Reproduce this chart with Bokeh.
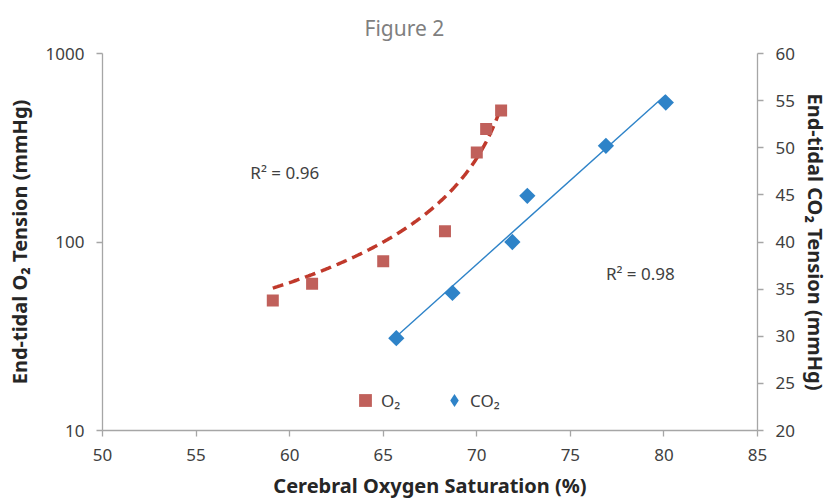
import numpy as np
from bokeh.plotting import figure
from bokeh.models import (Range1d, LinearAxis, LinearScale, FixedTicker, Legend, LegendItem, Label,
                          ColumnDataSource, CDSView, IndexFilter)
from bokeh.embed import file_html
from bokeh.resources import INLINE

# ---- data ----
sat_o2 = [59.1, 61.2, 65.0, 68.3, 70.0, 70.5, 71.3]
et_o2 = [49, 60, 79, 114, 298, 398, 499]
sat_co2 = [65.7, 68.7, 71.9, 72.7, 76.9, 80.1]
et_co2 = [29.8, 34.6, 40.0, 44.9, 50.2, 54.8]

x_ticks = [50, 55, 60, 65, 70, 75, 80, 85]
y_left_ticks = [10, 100, 1000]
y_left_labels = ["10", "100", "1000"]
y_right_ticks = [20, 25, 30, 35, 40, 45, 50, 55, 60]

title_text = "Figure 2"
r2_o2 = "R² = 0.96"
r2_co2 = "R² = 0.98"

FONT = "Noto Sans"
AX = "#a6a6a6"
TXT = "#404040"
RED_M = "#c0605b"
RED_L = "#c0392b"
BLUE = "#2e83c8"

p = figure(frame_width=655, frame_height=377, output_backend="svg", toolbar_location=None,
           x_range=Range1d(50, 85), y_range=Range1d(10, 1000), y_axis_type="log",
           min_border_left=102, min_border_right=66, min_border_top=53, min_border_bottom=67)
p.extra_y_ranges = {"co2": Range1d(20, 60)}
p.extra_y_scales = {"co2": LinearScale()}
p.outline_line_color = None
p.xgrid.visible = False
p.ygrid.visible = False
p.background_fill_color = "white"
p.border_fill_color = "white"

# title
p.title.text = title_text
p.title.text_font = FONT
p.title.text_font_size = "21px"
p.title.text_font_style = "normal"
p.title.text_color = "#7f7f7f"
p.title.align = "left"
p.title.offset = 262
p.title.standoff = 23

def style_axis(ax):
    ax.axis_line_color = AX
    ax.axis_line_width = 1.3
    ax.major_tick_line_color = AX
    ax.major_tick_line_width = 1.3
    ax.major_tick_out = 6
    ax.major_tick_in = 0
    ax.minor_tick_line_color = None
    ax.major_label_text_font = FONT
    ax.major_label_text_font_size = "17px"
    ax.major_label_text_color = TXT
    ax.major_label_standoff = 12
    ax.axis_label_text_font = FONT
    ax.axis_label_text_font_size = "20px"
    ax.axis_label_text_font_style = "bold"
    ax.axis_label_text_color = "#262626"

xa = p.xaxis[0]
xa.ticker = FixedTicker(ticks=x_ticks)
xa.axis_label = "Cerebral Oxygen Saturation (%)"
style_axis(xa)
xa.axis_label_standoff = 8

ya = p.yaxis[0]
ya.ticker = FixedTicker(ticks=y_left_ticks)
ya.major_label_overrides = {t: l for t, l in zip(y_left_ticks, y_left_labels)}
ya.axis_label = "End-tidal O₂ Tension (mmHg)"
style_axis(ya)
ya.axis_label_standoff = 10

yr = LinearAxis(y_range_name="co2", ticker=FixedTicker(ticks=y_right_ticks),
                axis_label="End-tidal CO₂ Tension (mmHg)")
style_axis(yr)
yr.axis_label_standoff = 4
yr.axis_label_orientation = "vertical"
p.add_layout(yr, "right")

# ---- trendlines (fitted from the data) ----
# O2: least-squares hyperbola y = a / (x0 - x)
xo = np.array(sat_o2, dtype=float)
yo = np.array(et_o2, dtype=float)
best = None
for x0 in np.linspace(xo.max() + 0.05, xo.max() + 12, 24000):
    u = 1.0 / (x0 - xo)
    a = (yo @ u) / (u @ u)
    sse = np.sum((yo - a * u) ** 2)
    if best is None or sse < best[0]:
        best = (sse, a, x0)
_, a_fit, x0_fit = best
xs = np.linspace(xo.min(), xo.max(), 150)
p.line(xs, a_fit / (x0_fit - xs), line_color=RED_L, line_width=3.5, line_dash="11 6")

# CO2: linear least squares
xc = np.array(sat_co2)
c1 = np.polyfit(xc, np.array(et_co2), 1)
xl = np.array([xc.min(), xc.max()])
p.line(xl, np.polyval(c1, xl), line_color=BLUE, line_width=1.4, y_range_name="co2")

# ---- points ----
o2_src = ColumnDataSource(data=dict(x=sat_o2, y=et_o2))
co2_src = ColumnDataSource(data=dict(x=sat_co2, y=et_co2))
r_o2 = p.scatter("x", "y", source=o2_src, marker="square", size=12, fill_color=RED_M,
                 line_color=RED_M, line_alpha=0.0)
# legend glyph for CO2: a small diamond on the first CO2 point, fully hidden under its marker
r_co2_leg = p.scatter("x", "y", source=co2_src, view=CDSView(filter=IndexFilter(indices=[0])),
                      marker="diamond", size=10, fill_color=BLUE, line_color=BLUE, line_alpha=0.0,
                      y_range_name="co2")
r_co2 = p.scatter("x", "y", source=co2_src, marker="square", angle=np.pi / 4, size=11.5,
                  fill_color=BLUE, line_color=BLUE, line_alpha=0.0, y_range_name="co2")

# ---- R² labels ----
p.add_layout(Label(x=57.9, y=234, text=r2_o2, text_font=FONT, text_font_size="17px",
                   text_color=TXT, text_baseline="middle"))
p.add_layout(Label(x=76.9, y=36.7, text=r2_co2, text_font=FONT, text_font_size="17px",
                   text_color=TXT, text_baseline="middle", y_range_name="co2"))

# ---- legend ----
leg = Legend(items=[LegendItem(label="O₂", renderers=[r_o2]),
                    LegendItem(label="CO₂", renderers=[r_co2_leg])],
             orientation="horizontal", location=(247, 14),
             label_text_font=FONT, label_text_font_size="17px", label_text_color=TXT,
             glyph_width=32, glyph_height=32, label_standoff=0, spacing=37,
             border_line_color=None, background_fill_alpha=0.0, padding=0, margin=0)
p.add_layout(leg)

open("out.html", "w").write(file_html(p, INLINE))
